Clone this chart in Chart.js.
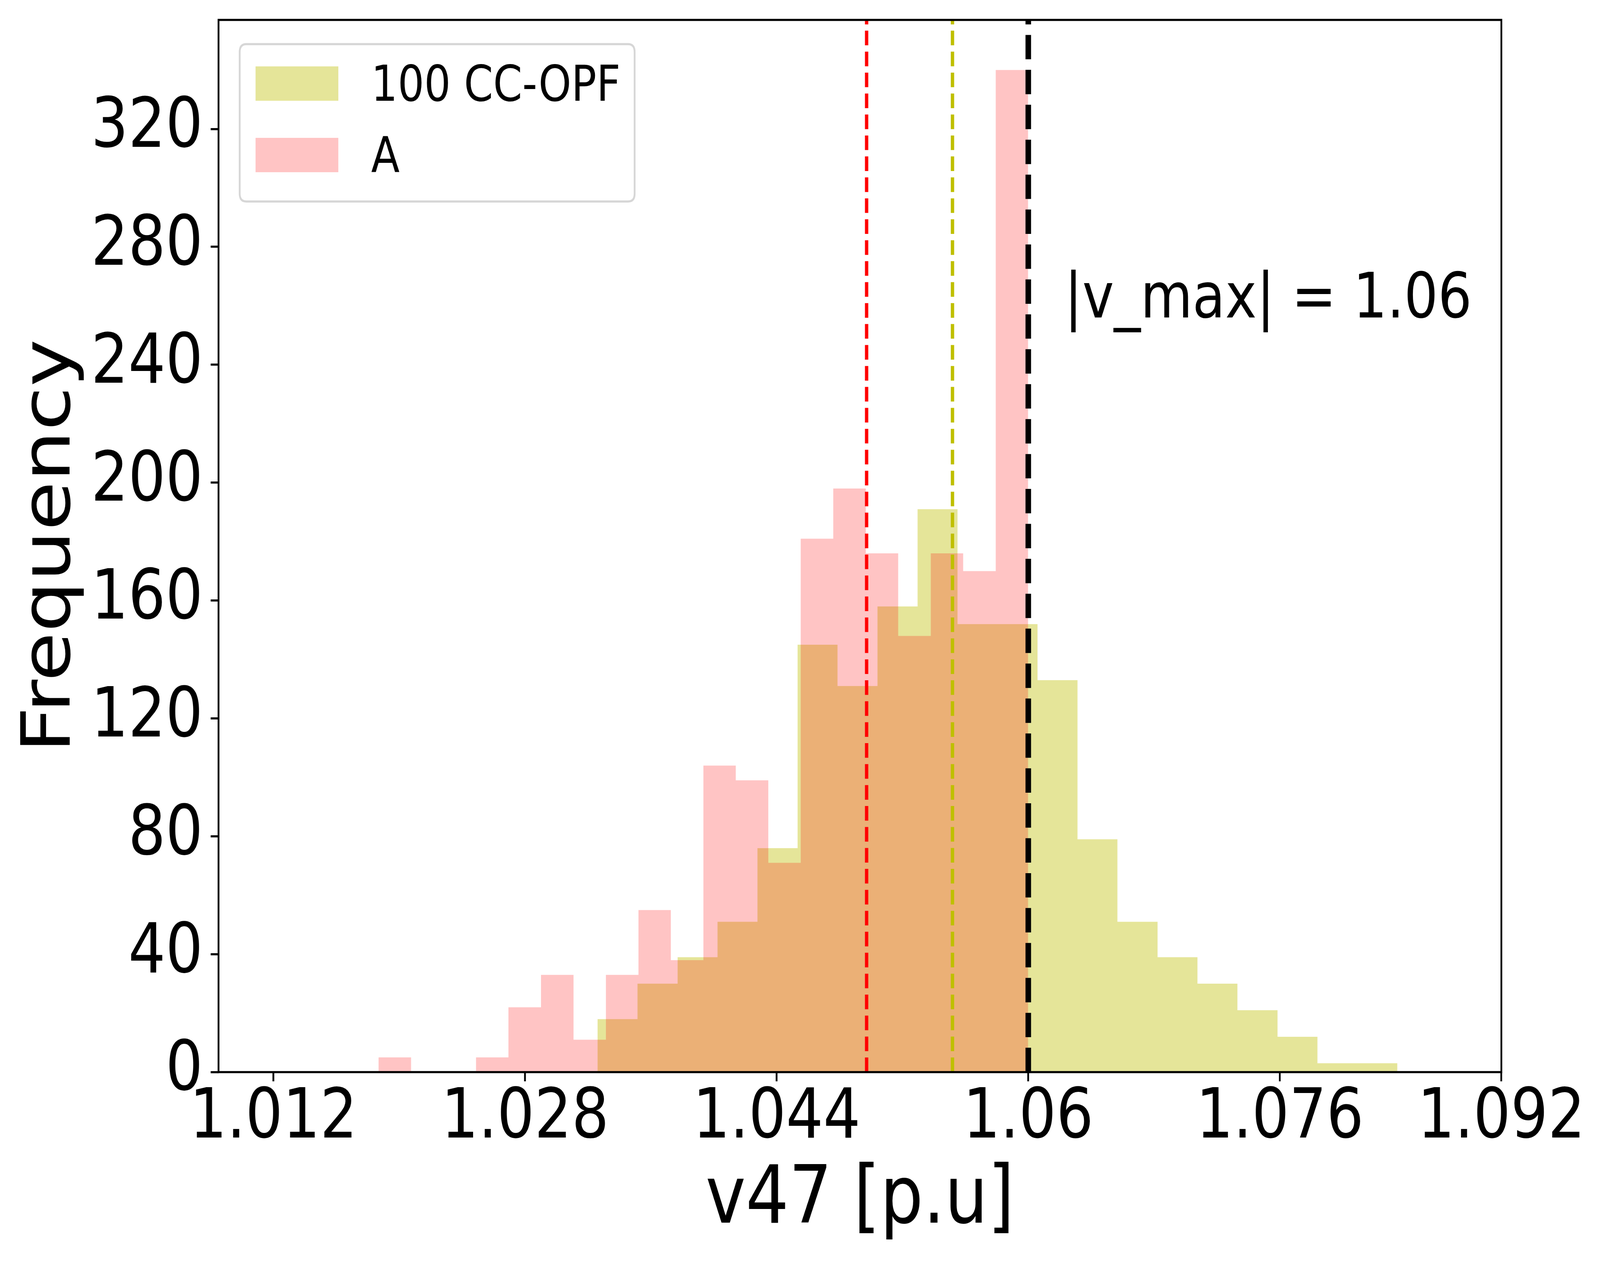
<!DOCTYPE html>
<html>
<head>
<meta charset="utf-8">
<script src="https://cdn.jsdelivr.net/npm/chart.js@4.4.1/dist/chart.umd.min.js"></script>
<style>
  html, body { margin: 0; padding: 0; background: #ffffff; overflow: hidden; width: 100vw; height: 100vh; }
  canvas { display: block; }
</style>
</head>
<body>
<canvas id="c" width="4833" height="3242" style="width:100vw;height:100vh;"></canvas>
<script>
// ---------------- data ----------------
const seriesLabels = ['100 CC-OPF', 'A'];

// histogram "100 CC-OPF": bin edges (21) and counts (20)
const ccEdges = [1.03261, 1.03515, 1.03770, 1.04024, 1.04278, 1.04533, 1.04787, 1.05041,
                 1.05296, 1.05550, 1.05804, 1.06059, 1.06313, 1.06567, 1.06822, 1.07076,
                 1.07330, 1.07585, 1.07839, 1.08093, 1.08347];
const ccCounts = [18, 30, 39, 51, 76, 145, 131, 158, 191, 152,
                  152, 133, 79, 51, 39, 30, 21, 12, 3, 3];

// histogram "A": bin edges (21) and counts (20)
const aEdges = [1.01868, 1.02075, 1.02281, 1.02488, 1.02694, 1.02901, 1.03108, 1.03314,
                1.03521, 1.03727, 1.03934, 1.04140, 1.04347, 1.04553, 1.04760, 1.04967,
                1.05173, 1.05380, 1.05586, 1.05793, 1.05999];
const aCounts = [5, 0, 0, 5, 22, 33, 11, 33, 55, 38,
                 104, 99, 71, 181, 198, 176, 148, 176, 170, 340];

// vertical reference lines
const meanA = 1.04972;
const meanCC = 1.05518;
const vMax = 1.06;

// axes
const xMin = 1.008505, xMax = 1.090084;
const yMin = 0, yMax = 357;
const xTickValues = [1.012, 1.028, 1.044, 1.06, 1.076, 1.090084];
const xTickLabels = ['1.012', '1.028', '1.044', '1.06', '1.076', '1.092'];
const yTickValues = [0, 40, 80, 120, 160, 200, 240, 280, 320];
const xTitle = 'v47 [p.u]';
const yTitle = 'Frequency';

// annotation
const noteText = '|v_max| = 1.06';
const noteX = 1.0623, noteY = 256;

// ---------------- helpers ----------------
function histPoints(edges, counts) {
  const pts = counts.map((c, i) => ({ x: edges[i], y: c }));
  pts.push({ x: edges[edges.length - 1], y: 0 });
  return pts;
}
function vline(x) {
  return [{ x: x, y: yMin }, { x: x, y: yMax }];
}

const FONT = "'DejaVu Sans', 'Liberation Sans', sans-serif";
const PT = 6.75; // px per pt in the reference

const ccColor = 'rgba(191,191,0,0.4)';
const aColor = 'rgba(255,0,0,0.23)';

const datasets = [
  {
    label: seriesLabels[0], isHist: true,
    data: histPoints(ccEdges, ccCounts),
    stepped: 'before', fill: 'origin',
    backgroundColor: ccColor, borderColor: 'rgba(0,0,0,0)', borderWidth: 0,
    pointRadius: 0, order: 3
  },
  {
    label: seriesLabels[1], isHist: true,
    data: histPoints(aEdges, aCounts),
    stepped: 'before', fill: 'origin',
    backgroundColor: aColor, borderColor: 'rgba(0,0,0,0)', borderWidth: 0,
    pointRadius: 0, order: 2
  },
  {
    label: 'mean A', data: vline(meanA), fill: false,
    borderColor: '#ff0000', borderWidth: 1.5 * PT, borderDash: [3.7 * 1.5 * PT, 1.6 * 1.5 * PT],
    pointRadius: 0, order: 1
  },
  {
    label: 'mean CC', data: vline(meanCC), fill: false,
    borderColor: '#bfbf00', borderWidth: 1.5 * PT, borderDash: [3.7 * 1.5 * PT, 1.6 * 1.5 * PT],
    pointRadius: 0, order: 1
  },
  {
    label: 'vmax', data: vline(vMax), fill: false,
    borderColor: '#000000', borderWidth: 2.5 * PT, borderDash: [3.7 * 2.5 * PT, 1.6 * 2.5 * PT],
    pointRadius: 0, order: 0
  }
];

// ---------------- plugins ----------------
const framePlugin = {
  id: 'frameAndExtras',
  afterDraw(chart) {
    const ctx = chart.ctx;
    const a = chart.chartArea;
    const xs = chart.scales.x, ys = chart.scales.y;
    ctx.save();
    // spines
    ctx.strokeStyle = '#000';
    ctx.lineWidth = 0.8 * PT;
    ctx.strokeRect(a.left, a.top, a.right - a.left, a.bottom - a.top);

    // annotation text
    ctx.fillStyle = '#000';
    ctx.font = '161px ' + FONT;
    ctx.textAlign = 'left';
    ctx.textBaseline = 'alphabetic';
    ctx.fillText(noteText, xs.getPixelForValue(noteX), ys.getPixelForValue(noteY));

    // legend
    const hist = chart.data.datasets.filter(d => d.isHist);
    const bx = 724, by = 113, bw = 1193, bh = 403, r = 20;
    ctx.beginPath();
    ctx.moveTo(bx + r, by);
    ctx.lineTo(bx + bw - r, by);
    ctx.quadraticCurveTo(bx + bw, by, bx + bw, by + r);
    ctx.lineTo(bx + bw, by + bh - r);
    ctx.quadraticCurveTo(bx + bw, by + bh, bx + bw - r, by + bh);
    ctx.lineTo(bx + r, by + bh);
    ctx.quadraticCurveTo(bx, by + bh, bx, by + bh - r);
    ctx.lineTo(bx, by + r);
    ctx.quadraticCurveTo(bx, by, bx + r, by);
    ctx.closePath();
    ctx.fillStyle = 'rgba(255,255,255,0.8)';
    ctx.fill();
    ctx.strokeStyle = '#d6d6d6';
    ctx.lineWidth = 0.8 * PT;
    ctx.stroke();

    const rowTop = [170, 353];
    ctx.font = '126px ' + FONT;
    ctx.textBaseline = 'alphabetic';
    hist.forEach((d, i) => {
      ctx.fillStyle = d.backgroundColor;
      ctx.fillRect(772, rowTop[i], 250, 88);
      ctx.fillStyle = '#000';
      ctx.fillText(d.label, 1121, rowTop[i] + 88);
    });
    ctx.restore();
  }
};

// ---------------- chart ----------------
const chart = new Chart(document.getElementById('c'), {
  type: 'line',
  data: { datasets: datasets },
  options: {
    responsive: false,
    maintainAspectRatio: false,
    devicePixelRatio: 1,
    animation: false,
    events: [],
    layout: { padding: { left: 0, top: 51, right: 298, bottom: 0 }, autoPadding: false },
    plugins: {
      legend: { display: false },
      tooltip: { enabled: false },
      title: { display: false }
    },
    elements: { line: { tension: 0 } },
    scales: {
      x: {
        type: 'linear',
        min: xMin, max: xMax,
        afterBuildTicks(scale) { scale.ticks = xTickValues.map(v => ({ value: v })); },
        afterFit(scale) {
          scale.height = 3242 - 2745.5;
          scale.paddingLeft = 0; scale.paddingRight = 0; scale.paddingTop = 0; scale.paddingBottom = 0;
        },
        ticks: {
          autoSkip: false, maxRotation: 0, minRotation: 0,
          color: '#000', padding: 9,
          font: { family: FONT, size: 177, lineHeight: 1 },
          callback: (v, i) => xTickLabels[i]
        },
        grid: {
          display: true, drawOnChartArea: false, drawTicks: true,
          tickLength: 3.5 * PT, tickWidth: 0.8 * PT, tickColor: '#000', color: '#000', lineWidth: 0.8 * PT
        },
        border: { display: false },
        title: {
          display: true, text: xTitle, color: '#000',
          font: { family: FONT, size: 205, lineHeight: 1 },
          padding: { top: 0, bottom: 62 }
        }
      },
      y: {
        type: 'linear',
        min: yMin, max: yMax,
        afterBuildTicks(scale) { scale.ticks = yTickValues.map(v => ({ value: v })); },
        afterFit(scale) {
          scale.width = 660;
          scale.paddingLeft = 0; scale.paddingRight = 0; scale.paddingTop = 0; scale.paddingBottom = 0;
        },
        ticks: {
          color: '#000', padding: 3.5 * PT,
          font: { family: FONT, size: 177 },
          callback: (v) => String(v)
        },
        grid: {
          display: true, drawOnChartArea: false, drawTicks: true,
          tickLength: 3.5 * PT, tickWidth: 0.8 * PT, tickColor: '#000', color: '#000', lineWidth: 0.8 * PT
        },
        border: { display: false },
        title: {
          display: true, text: yTitle, color: '#000',
          font: { family: FONT, size: 205, lineHeight: 1 },
          padding: { top: 54, bottom: 0 }
        }
      }
    }
  },
  plugins: [framePlugin]
});
</script>
</body>
</html>
